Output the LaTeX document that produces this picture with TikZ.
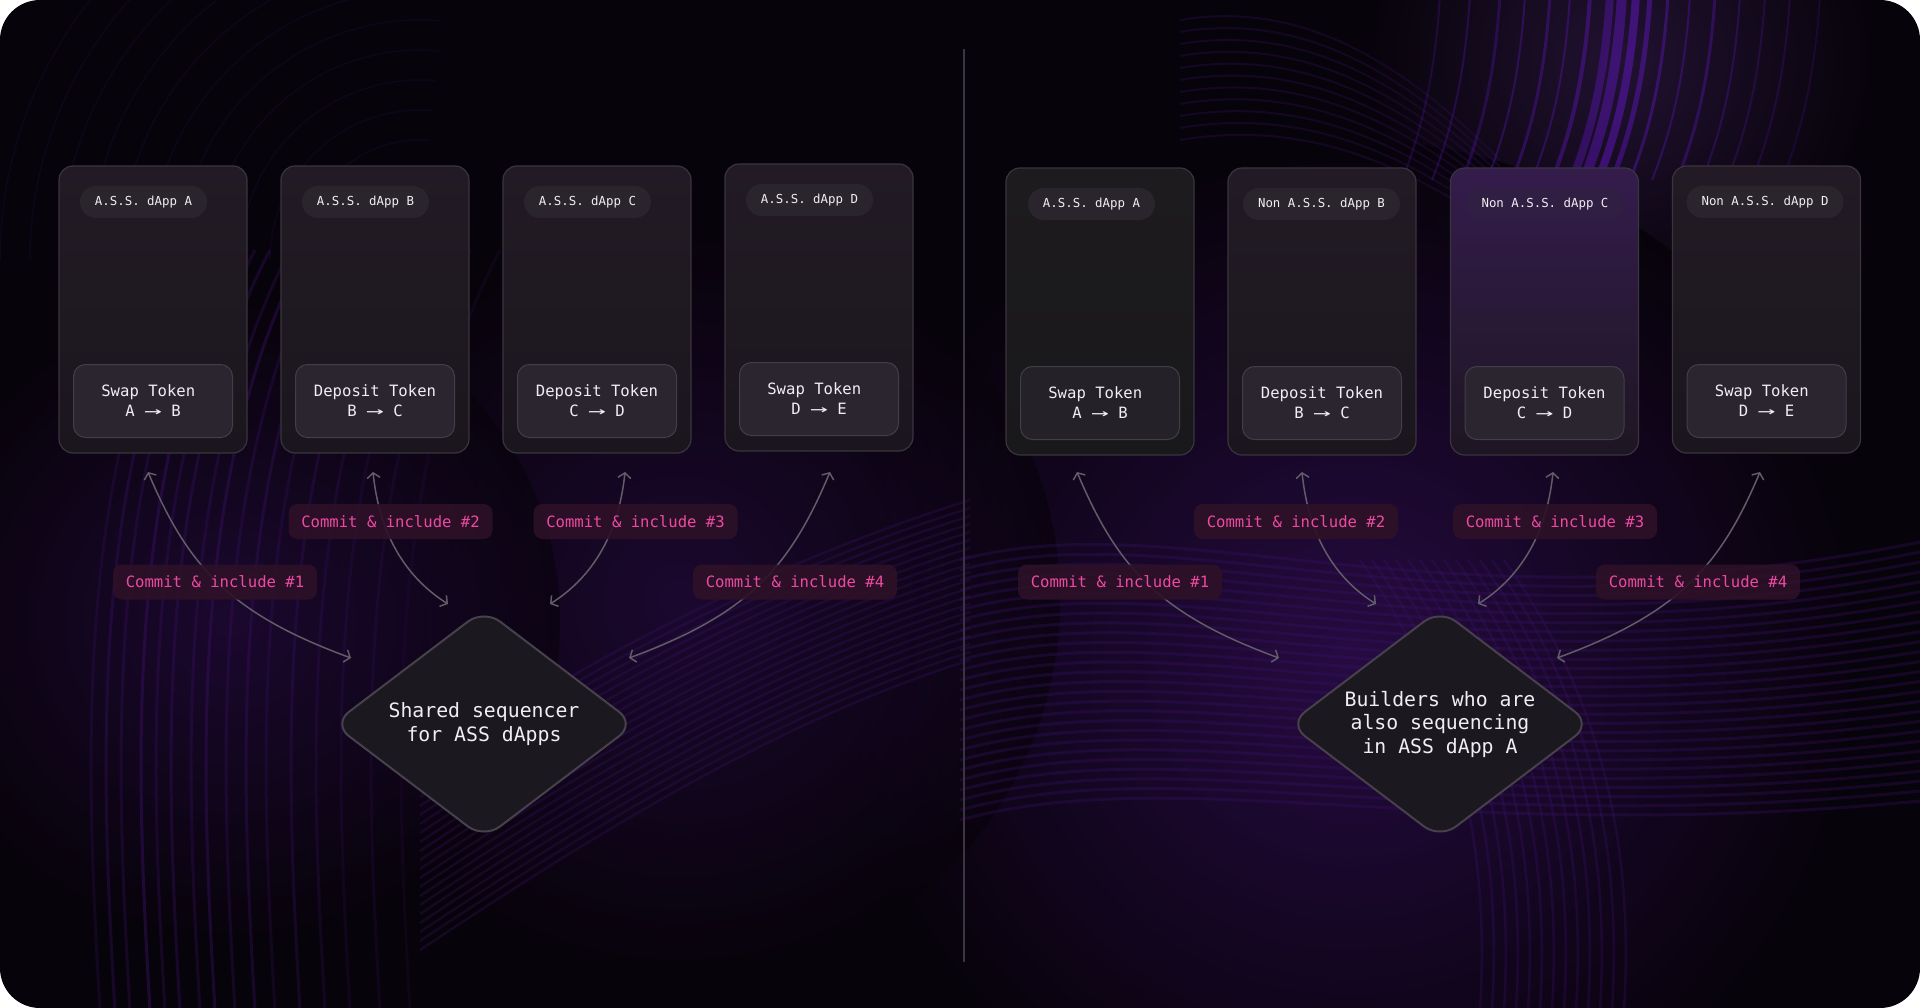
\documentclass[tikz,border=0pt]{standalone}
\usepackage{fontspec}
\usepackage{graphicx}
\newfontfamily\mono{DejaVu Sans Mono}
\usetikzlibrary{arrows.meta,shapes.geometric,calc}
\definecolor{bgbase}{HTML}{07030A}
\definecolor{streak}{HTML}{3A1166}
\definecolor{streakdim}{HTML}{2A0C48}
\definecolor{streakbright}{HTML}{6A18D6}
\definecolor{cardtop}{HTML}{221B25}
\definecolor{cardbot}{HTML}{1B161D}
\definecolor{cardline}{HTML}{3A343E}
\definecolor{innerfill}{HTML}{2B2530}
\definecolor{innerline}{HTML}{433D48}
\definecolor{pillfill}{HTML}{2A242D}
\definecolor{txt}{HTML}{F0EEF2}
\definecolor{lblfill}{HTML}{2D1127}
\definecolor{lbltxt}{HTML}{EC4AA2}
\definecolor{conncol}{HTML}{625C68}
\definecolor{diafill}{HTML}{1C181F}
\definecolor{dialine}{HTML}{46414B}
\definecolor{divcol}{HTML}{3A363F}
\definecolor{graytop}{HTML}{1D1B1E}
\definecolor{graybot}{HTML}{19181A}
\definecolor{purptop}{HTML}{341C4C}
\definecolor{purpbot}{HTML}{1E1623}
\newcommand{\tokarr}{\scalebox{1.9}[1]{→}}
\newcommand{\trail}{\hphantom{x}}
\begin{document}
\begin{tikzpicture}[x=1pt,y=-1pt,
  card/.style={draw=cardline, line width=1.2pt, top color=cardtop, bottom color=cardbot,
    rounded corners=14pt, minimum width=188pt, minimum height=287pt, inner sep=0pt},
  cardgray/.style={card, top color=graytop, bottom color=graybot},
  cardpurple/.style={card, top color=purptop, bottom color=purpbot},
  pill/.style={fill=pillfill, rounded corners=16pt, minimum height=32pt, inner xsep=15pt,
    inner ysep=0pt, text=txt, font=\mono\fontsize{12.4}{14}\selectfont},
  innerbox/.style={draw=innerline, line width=1pt, fill=innerfill, rounded corners=12pt,
    minimum width=159pt, minimum height=73pt, inner sep=0pt, align=center, text=txt,
    font=\mono\fontsize{15.6}{20}\selectfont},
  lbl/.style={fill=lblfill, fill opacity=0.9, text opacity=1, rounded corners=9pt,
    minimum width=204pt, minimum height=35pt, inner sep=0pt, text=lbltxt,
    font=\mono\fontsize{15.6}{18}\selectfont},
  seq/.style={diamond, aspect=1.317, draw=dialine, line width=2pt, fill=diafill,
    rounded corners=20pt, minimum width=303pt, minimum height=230pt, inner sep=0pt,
    align=center, text=txt, font=\mono\fontsize{19.8}{23.5}\selectfont},
  conn/.style={draw=conncol, line width=1.5pt, <->,
    >={Straight Barb[length=5pt,width=13pt]}},
]
\useasboundingbox (0,0) rectangle (1920,1008);
\fill[white] (0,0) rectangle (1920,1008);

% ---------- background ----------
\begin{scope}
\clip[rounded corners=40pt] (0,0) rectangle (1920,1008);
\fill[bgbase] (0,0) rectangle (1920,1008);
\shade[inner color=purptop, outer color=bgbase, opacity=0.6] (1620,60) circle (260);
\shade[inner color=streakdim, outer color=bgbase, opacity=0.9] (1350,660) circle (520);
\shade[inner color=streakdim, outer color=bgbase, opacity=0.6] (680,600) circle (380);
\shade[inner color=streakdim, outer color=bgbase, opacity=0.6] (230,620) circle (330);
% top-left arcs
\foreach \r in {120,150,...,420}
  \draw[streakdim, opacity=0.25, line width=1.5pt] (420,260) ++(180:\r) arc[start angle=180, end angle=275, radius=\r];
% left fountain streaks
\foreach \x/\o in {100/0.25,115/0.35,130/0.3,150/0.45,165/0.3,180/0.35,200/0.3,215/0.4,235/0.3,255/0.35,275/0.25,300/0.3,325/0.25,350/0.2,380/0.2,410/0.15}
  \draw[streak, opacity=\o, line width=3pt] (\x,1010) .. controls (\x-15,760) and (\x-25,470) .. (\x+90,250);
% middle waves
\foreach \i in {0,...,20}
  \draw[streak, opacity=0.3, line width=2.5pt] (420,770+\i*9) .. controls (600,650+\i*9) and (780,560+\i*8) .. (970,500+\i*8);
% right waves
\foreach \i in {0,...,26}
  \draw[streak, opacity=0.32, line width=3pt] (960,560+\i*10) .. controls (1180,500+\i*10) and (1450,640+\i*8) .. (1930,540+\i*10);
\foreach \x in {1480,1492,...,1630}
  \draw[streak, opacity=0.3, line width=2.5pt] (\x,1010) .. controls (\x+10,850) and (\x-20,700) .. (\x-120,560);
% upper right swirls
\foreach \i in {0,...,10}
  \draw[streakdim, opacity=0.4, line width=2pt] (1180,20+\i*12) .. controls (1300,0+\i*12) and (1400,60+\i*10) .. (1500,160+\i*7);
% top-right vertical streaks
\foreach \x/\w/\o in {1440/2/0.2,1470/2/0.25,1500/3/0.25,1525/2/0.3,1550/3/0.3,1570/2/0.3,1590/4/0.35,1610/8/0.35,1622/10/0.4,1636/8/0.45,1650/5/0.4,1668/3/0.35,1690/2/0.3,1715/3/0.3,1740/2/0.25,1765/2/0.2,1790/2/0.18,1820/2/0.15}
  \draw[streakbright, opacity=\o, line width=\w pt] (\x,-5) .. controls (\x-4,60) and (\x-14,120) .. (\x-38,180);
\end{scope}

% divider
\draw[divcol, line width=1.5pt] (964,49) -- (964,962);

% ---------- left half ----------
\node[card] (L1) at (153,309.5) {};
\node[card] (L2) at (375,309.5) {};
\node[card] (L3) at (597,309.5) {};
\node[card] (L4) at (819,307.5) {};
\node[pill] (L1p) at (143.5,202) {A.S.S. dApp A};
\node[pill] (L2p) at (365.5,202) {A.S.S. dApp B};
\node[pill] (L3p) at (587.5,202) {A.S.S. dApp C};
\node[pill] (L4p) at (809.5,200) {A.S.S. dApp D};
\node[innerbox] (L1b) at (153,401) {Swap Token\trail\\A \tokarr{} B};
\node[innerbox] (L2b) at (375,401) {Deposit Token\\B \tokarr{} C};
\node[innerbox] (L3b) at (597,401) {Deposit Token\\C \tokarr{} D};
\node[innerbox] (L4b) at (819,399) {Swap Token\trail\\D \tokarr{} E};

\node[seq] (D1) at (484,724) {Shared sequencer\\for ASS dApps};

\coordinate (a1s) at (148,472); \coordinate (a1e) at (351,658);
\coordinate (a2s) at (373,472); \coordinate (a2e) at (448,604);
\coordinate (a3s) at (625,472); \coordinate (a3e) at (550,604);
\coordinate (a4s) at (830,472); \coordinate (a4e) at (629,658);
\draw[conn] (a1s) .. controls +(40,95) and +(-120,-44) .. (a1e);
\draw[conn] (a2s) .. controls +(7,68) and +(-38,-24) .. (a2e);
\draw[conn] (a3s) .. controls +(-7,68) and +(38,-24) .. (a3e);
\draw[conn] (a4s) .. controls +(-40,95) and +(120,-44) .. (a4e);

\node[lbl] (l1) at (215,582) {Commit \& include \#1};
\node[lbl] (l2) at (390.5,521.5) {Commit \& include \#2};
\node[lbl] (l3) at (635.5,521.5) {Commit \& include \#3};
\node[lbl] (l4) at (795,582) {Commit \& include \#4};

% ---------- right half ----------
\node[cardgray] (R1) at (1100,311.5) {};
\node[card] (R2) at (1322,311.5) {};
\node[cardpurple] (R3) at (1544.5,311.5) {};
\node[card] (R4) at (1766.5,309.5) {};
\node[pill] (R1p) at (1091.5,204) {A.S.S. dApp A};
\node[pill] (R2p) at (1321.5,204) {Non A.S.S. dApp B};
\node[pill, fill=purptop!70!pillfill] (R3p) at (1545,204) {Non A.S.S. dApp C};
\node[pill] (R4p) at (1765,202) {Non A.S.S. dApp D};
\node[innerbox, fill=graytop!40!innerfill] (R1b) at (1100,403) {Swap Token\trail\\A \tokarr{} B};
\node[innerbox] (R2b) at (1322,403) {Deposit Token\\B \tokarr{} C};
\node[innerbox] (R3b) at (1544.5,403) {Deposit Token\\C \tokarr{} D};
\node[innerbox] (R4b) at (1766.5,401) {Swap Token\trail\\D \tokarr{} E};

\node[seq] (D2) at (1440,724) {Builders who are\\also sequencing\\in ASS dApp A};

\coordinate (b1s) at (1077,472); \coordinate (b1e) at (1279,658);
\coordinate (b2s) at (1302,472); \coordinate (b2e) at (1376,604);
\coordinate (b3s) at (1553,472); \coordinate (b3e) at (1478,604);
\coordinate (b4s) at (1760,472); \coordinate (b4e) at (1557,658);
\draw[conn] (b1s) .. controls +(40,95) and +(-120,-44) .. (b1e);
\draw[conn] (b2s) .. controls +(7,68) and +(-38,-24) .. (b2e);
\draw[conn] (b3s) .. controls +(-7,68) and +(38,-24) .. (b3e);
\draw[conn] (b4s) .. controls +(-40,95) and +(120,-44) .. (b4e);

\node[lbl] (r1) at (1120,582) {Commit \& include \#1};
\node[lbl] (r2) at (1296,521.5) {Commit \& include \#2};
\node[lbl] (r3) at (1555,521.5) {Commit \& include \#3};
\node[lbl] (r4) at (1698,582) {Commit \& include \#4};
\end{tikzpicture}
\end{document}
